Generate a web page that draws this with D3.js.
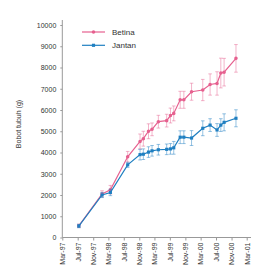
<!DOCTYPE html>
<html>
<head>
<meta charset="utf-8">
<script src="https://cdn.jsdelivr.net/npm/d3@7"></script>
<style>
  body { margin: 0; background: #fff; }
  svg text { font-family: "Liberation Sans", Arial, sans-serif; fill: #333; }
  .axis path, .axis line { stroke: #999; }
</style>
</head>
<body>
<div id="chart"></div>
<script>
const width = 255, height = 270;
const margin = { top: 25, right: 8.3, bottom: 32.5, left: 62.3 };

// sampling dates
const dates = ['1997-07-10', '1998-01-10', '1998-03-17', '1998-08-01', '1998-11-07', '1998-12-03',
    '1999-01-13', '1999-02-10', '1999-04-01', '1999-06-06', '1999-07-06', '1999-08-01',
    '1999-09-21', '1999-10-20', '1999-12-20', '2000-03-18', '2000-05-15', '2000-07-09',
    '2000-08-08', '2000-09-03', '2000-12-06'];

const betina = [550, 2050, 2250, 3800, 4520, 4650, 5000, 5090, 5450, 5500, 5740, 5840,
    6480, 6480, 6860, 6940, 7200, 7250, 7740, 7780, 8430];
const betinaErr = [80, 150, 200, 250, 350, 350, 350, 300, 300, 300, 350, 350,
    400, 400, 400, 500, 500, 550, 700, 650, 650];

const jantan = [540, 2000, 2120, 3420, 3900, 3920, 4020, 4080, 4130, 4150, 4170, 4220,
    4720, 4720, 4680, 5140, 5290, 5060, 5290, 5420, 5610];
const jantanErr = [80, 120, 150, 120, 250, 250, 250, 250, 250, 250, 250, 300,
    300, 300, 350, 350, 300, 300, 300, 400, 400];

const xTicks = ['1997-03-01', '1997-07-01', '1997-11-01', '1998-03-01', '1998-07-01', '1998-11-01',
    '1999-03-01', '1999-07-01', '1999-11-01', '2000-03-01', '2000-07-01', '2000-11-01', '2001-03-01'];
const yTicks = [0, 1000, 2000, 3000, 4000, 5000, 6000, 7000, 8000, 9000, 10000];
const seriesNames = ['Betina', 'Jantan'];
const colors = { Betina: '#e6608f', Jantan: '#1f7fc1' };

const parse = d3.timeParse('%Y-%m-%d');
const series = [
    { name: 'Betina', values: betina, err: betinaErr, symbol: d3.symbolCircle },
    { name: 'Jantan', values: jantan, err: jantanErr, symbol: d3.symbolSquare }
].map(s => ({ ...s, points: dates.map((d, i) => ({ date: parse(d), v: s.values[i], e: s.err[i] })) }));

const svg = d3.select('#chart').append('svg')
    .attr('width', width).attr('height', height);

const x = d3.scaleTime()
    .domain([parse(xTicks[0]), parse(xTicks[xTicks.length - 1])])
    .range([margin.left, width - margin.right]);
const y = d3.scaleLinear().domain([0, 10000]).range([height - margin.bottom, margin.top]);

// axes
const xAxis = svg.append('g')
    .attr('class', 'axis')
    .attr('transform', 'translate(0,' + (height - margin.bottom) + ')')
    .call(d3.axisBottom(x).tickValues(xTicks.map(parse)).tickFormat(d3.timeFormat('%b-%y')).tickSize(3).tickSizeOuter(0));
xAxis.select('.domain').attr('d', 'M' + margin.left + ',0H' + (width - 4));
xAxis.selectAll('text')
    .attr('font-size', 7)
    .attr('transform', 'rotate(-90)')
    .attr('text-anchor', 'end')
    .attr('x', -5).attr('y', 0).attr('dy', '0.33em');

const yAxis = svg.append('g')
    .attr('class', 'axis')
    .attr('transform', 'translate(' + margin.left + ',0)')
    .call(d3.axisLeft(y).tickValues(yTicks).tickFormat(d3.format('d')).tickSize(2).tickSizeOuter(0));
yAxis.select('.domain').attr('d', 'M0,' + (margin.top - 5) + 'V' + (height - margin.bottom));
yAxis.selectAll('text').attr('font-size', 7).attr('x', -6);

svg.append('text')
    .attr('transform', 'translate(21,124) rotate(-90)')
    .attr('text-anchor', 'middle')
    .attr('font-size', 7)
    .text('Bobot tubuh  (g)');

// series
const line = d3.line().x(d => x(d.date)).y(d => y(d.v));
series.forEach(s => {
    const g = svg.append('g');
    const c = colors[s.name];
    g.selectAll('.err').data(s.points).enter().append('path')
        .attr('d', d => {
            const px = x(d.date), y0 = y(d.v - d.e), y1 = y(d.v + d.e);
            return 'M' + px + ',' + y0 + 'V' + y1 + 'M' + (px - 1.8) + ',' + y0 + 'H' + (px + 1.8) +
                'M' + (px - 1.8) + ',' + y1 + 'H' + (px + 1.8);
        })
        .attr('stroke', c).attr('stroke-opacity', 0.6).attr('stroke-width', 0.8).attr('fill', 'none');
    g.append('path').datum(s.points)
        .attr('d', line)
        .attr('fill', 'none').attr('stroke', c).attr('stroke-width', 1.2);
    g.selectAll('.pt').data(s.points).enter().append('path')
        .attr('d', d3.symbol().type(s.symbol).size(10))
        .attr('transform', d => 'translate(' + x(d.date) + ',' + y(d.v) + ')')
        .attr('fill', c);
});

// legend
const legend = svg.append('g').attr('transform', 'translate(82,32)');
seriesNames.forEach((name, i) => {
    const s = series.find(d => d.name === name);
    const row = legend.append('g').attr('transform', 'translate(0,' + (i * 13.3) + ')');
    row.append('line').attr('x1', 0).attr('x2', 23).attr('stroke', colors[name]).attr('stroke-width', 1.2);
    row.append('path').attr('d', d3.symbol().type(s.symbol).size(10)).attr('transform', 'translate(11.5,0)').attr('fill', colors[name]);
    row.append('text').attr('x', 30).attr('dy', '0.35em').attr('font-size', 8).text(name);
});
</script>
</body>
</html>
